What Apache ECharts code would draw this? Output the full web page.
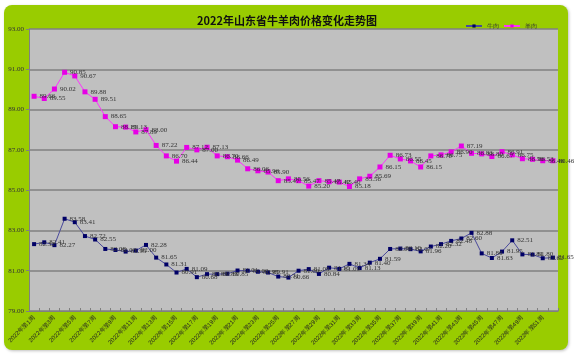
<!DOCTYPE html>
<html>
<head>
<meta charset="utf-8">
<script src="https://cdn.jsdelivr.net/npm/echarts@6/dist/echarts.min.js"></script>
<style>
  html, body { margin: 0; padding: 0; background: #fff; }
  #main { width: 574px; height: 354px; }
</style>
</head>
<body>
<div id="main"></div>
<script>
var weeks = [];
for (var i = 1; i <= 52; i++) weeks.push('2022年第' + i + '周');

var beef = [82.32, 82.41, 82.27, 83.58, 83.41, 82.72, 82.55, 82.08, 82.03, 81.95,
  82.00, 82.28, 81.65, 81.31, 80.91, 81.09, 80.68, 80.83, 80.83, 80.85,
  81.01, 81.00, 80.95, 80.91, 80.71, 80.66, 81.00, 81.08, 80.84, 81.15,
  81.09, 81.34, 81.13, 81.40, 81.59, 82.08, 82.10, 82.07, 81.96, 82.20,
  82.32, 82.48, 82.60, 82.88, 81.86, 81.63, 81.95, 82.51, 81.81, 81.80,
  81.62, 81.65];

var mutton = [89.66, 89.55, 90.02, 90.85, 90.67, 89.88, 89.51, 88.65, 88.15, 88.13,
  87.89, 88.00, 87.22, 86.70, 86.44, 87.12, 87.00, 87.13, 86.70, 86.66,
  86.49, 86.06, 85.96, 85.90, 85.47, 85.56, 85.47, 85.20, 85.47, 85.42,
  85.40, 85.18, 85.56, 85.69, 86.15, 86.73, 86.55, 86.45, 86.15, 86.70,
  86.75, 86.90, 87.19, 86.83, 86.80, 86.67, 86.91, 86.75, 86.56, 86.53,
  86.46, 86.46];

var yMin = 79, yMax = 93, yStep = 2;

var myChart = echarts.init(document.getElementById('main'));

var valueLabel = {
  show: true,
  position: 'right',
  distance: 3,
  fontSize: 7,
  fontFamily: 'Liberation Serif',
  color: '#333',
  formatter: function (p) { return p.value.toFixed(2); }
};

var option = {
  backgroundColor: 'transparent',
  animation: false,
  graphic: [{
    type: 'rect',
    z: -10,
    silent: true,
    shape: { x: 4, y: 5, width: 564, height: 345, r: 8 },
    style: { fill: '#99cc00', shadowBlur: 3, shadowColor: 'rgba(0,0,0,0.25)', shadowOffsetX: 1, shadowOffsetY: 1 }
  }],
  title: {
    text: '2022年山东省牛羊肉价格变化走势图',
    left: 'center',
    top: 10,
    textStyle: { fontSize: 11, fontWeight: 'bold', color: '#111', fontFamily: 'Noto Sans CJK SC' }
  },
  legend: {
    right: 32,
    top: 18,
    itemWidth: 16,
    itemHeight: 4,
    itemGap: 4,
    textStyle: { fontSize: 6, color: '#333' },
    data: ['牛肉', '羊肉']
  },
  grid: {
    left: 29, right: 16, top: 29, bottom: 43,
    show: true, backgroundColor: '#c0c0c0', borderWidth: 0
  },
  xAxis: {
    type: 'category',
    data: weeks,
    boundaryGap: true,
    axisLine: { lineStyle: { color: '#808080', width: 1 } },
    axisTick: { show: true, inside: true, length: 3, interval: 0, lineStyle: { color: '#808080' } },
    axisLabel: { interval: 1, rotate: 45, fontSize: 6, color: '#222', margin: 6 }
  },
  yAxis: {
    type: 'value',
    min: yMin, max: yMax, interval: yStep,
    axisLine: { show: true, lineStyle: { color: '#808080', width: 1 } },
    axisTick: { show: true, length: 3, lineStyle: { color: '#808080' } },
    axisLabel: {
      fontSize: 7, color: '#333', margin: 5, fontFamily: 'Liberation Serif',
      formatter: function (v) { return v.toFixed(2); }
    },
    splitLine: { lineStyle: { color: '#808080', width: 1.5 } }
  },
  series: [
    {
      name: '牛肉',
      type: 'line',
      data: beef,
      symbol: 'rect',
      symbolSize: 4,
      lineStyle: { color: '#4a4a9c', width: 1 },
      itemStyle: { color: '#000066' },
      label: valueLabel
    },
    {
      name: '羊肉',
      type: 'line',
      data: mutton,
      symbol: 'rect',
      symbolSize: 5,
      lineStyle: { color: '#ff33ff', width: 1 },
      itemStyle: { color: '#e600e6' },
      label: valueLabel
    }
  ]
};
myChart.setOption(option);

window.onresize = function () {
  myChart.resize();
};
</script>
</body>
</html>
